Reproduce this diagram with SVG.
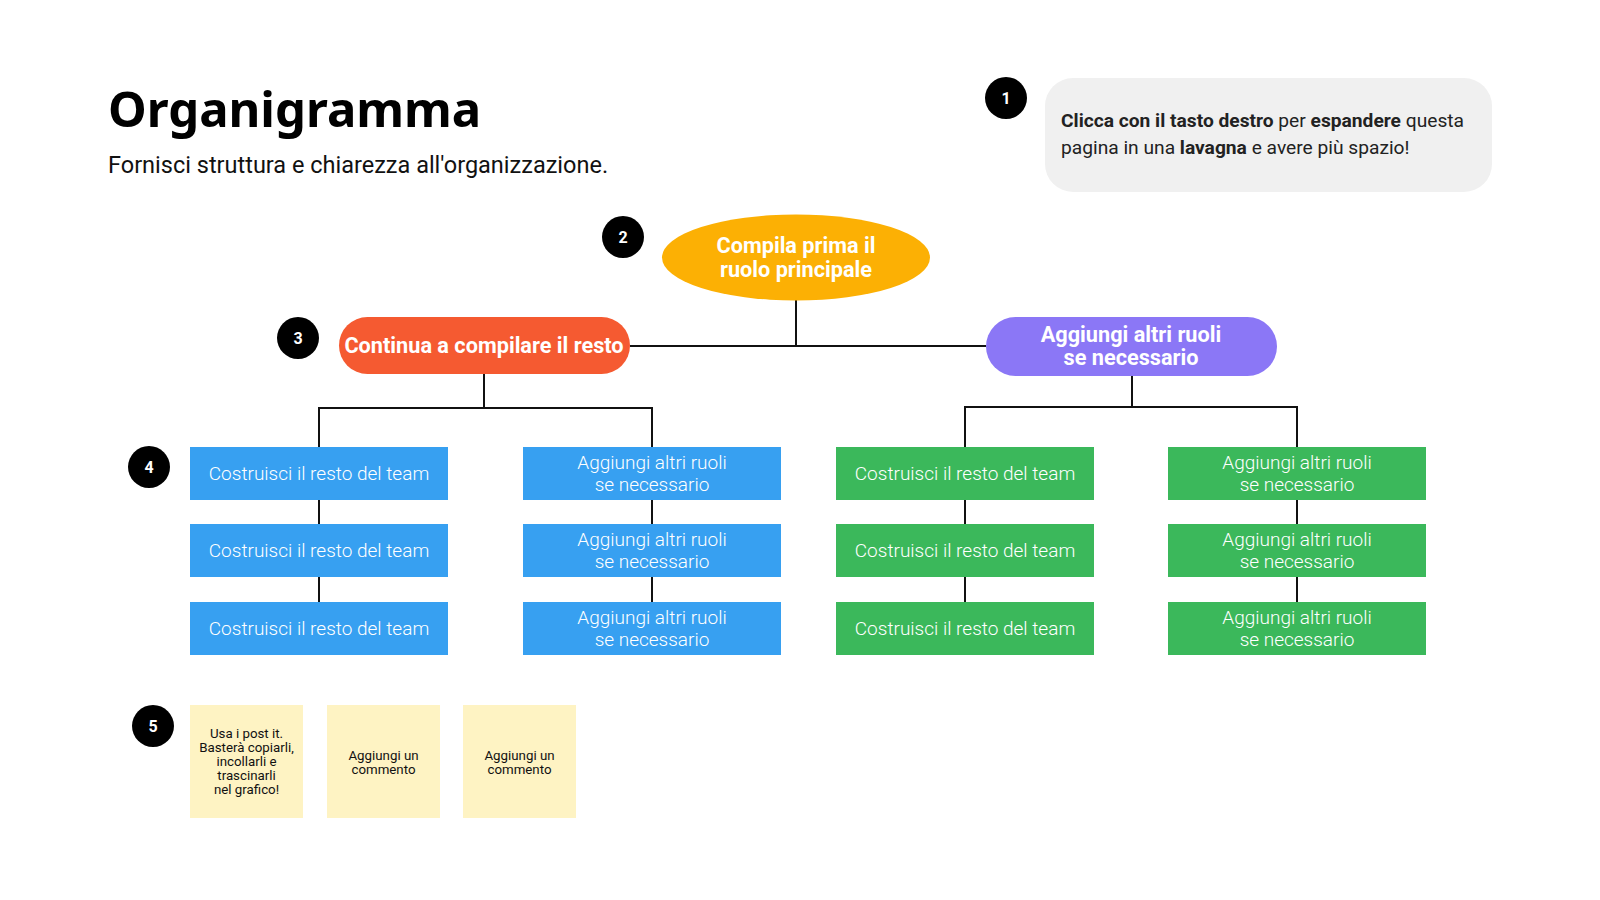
<svg xmlns="http://www.w3.org/2000/svg" width="1600" height="900" viewBox="0 0 1600 900">
<style>
.badge circle{fill:#000}
.badge text{fill:#fff;font-family:Roboto,"Liberation Sans",sans-serif;font-weight:700;font-size:16px;text-anchor:middle}
.conn line{stroke:#111;stroke-width:2;fill:none}
.top text{fill:#fff;font-family:Roboto,"Liberation Sans",sans-serif;font-weight:700;font-size:21.7px;text-anchor:middle}
.box text{fill:#fff;font-family:Roboto,"Liberation Sans",sans-serif;font-weight:300;font-size:19px;text-anchor:middle}
.blue rect{fill:#37a0f1}
.green rect{fill:#3bb85b}
.note rect{fill:#fef3c3}
.note text{font-family:Roboto,"Liberation Sans",sans-serif;font-size:13.3px;fill:#111;text-anchor:middle}
</style>
<rect width="1600" height="900" fill="#fff"/>
<g id="title">
<text x="108" y="127" font-family="'Noto Sans','Liberation Sans',sans-serif" font-weight="700" font-size="49" fill="#000">Organigramma</text>
<text x="108" y="173" font-family="Roboto,'Liberation Sans',sans-serif" font-size="23.5" fill="#111">Fornisci struttura e chiarezza all'organizzazione.</text>
</g>
<g id="info">
<rect x="1045" y="78" width="447" height="114" rx="28" fill="#f0f0f0"/>
<text font-family="Roboto,'Liberation Sans',sans-serif" font-size="19.2" fill="#222"><tspan x="1061" y="127"><tspan font-weight="700">Clicca con il tasto destro</tspan> per <tspan font-weight="700">espandere</tspan> questa</tspan><tspan x="1061" y="154">pagina in una <tspan font-weight="700">lavagna</tspan> e avere più spazio!</tspan></text>
</g>
<g class="badge" id="badge1"><circle cx="1006" cy="98" r="21"/><text x="1006" y="104">1</text></g>
<g class="badge" id="badge2"><circle cx="623" cy="237" r="21"/><text x="623" y="243">2</text></g>
<g class="badge" id="badge3"><circle cx="298" cy="338" r="21"/><text x="298" y="344">3</text></g>
<g class="badge" id="badge4"><circle cx="149" cy="467" r="21"/><text x="149" y="473">4</text></g>
<g class="badge" id="badge5"><circle cx="153" cy="726" r="21"/><text x="153" y="732">5</text></g>
<g class="conn" id="connectors">
<line x1="796" y1="300" x2="796" y2="346"/>
<line x1="630" y1="346" x2="986" y2="346"/>
<line x1="484" y1="374" x2="484" y2="408"/>
<line x1="318" y1="408" x2="653" y2="408"/>
<line x1="319" y1="407" x2="319" y2="447"/>
<line x1="652" y1="407" x2="652" y2="447"/>
<line x1="1132" y1="376" x2="1132" y2="407"/>
<line x1="964" y1="407" x2="1298" y2="407"/>
<line x1="965" y1="406" x2="965" y2="447"/>
<line x1="1297" y1="406" x2="1297" y2="447"/>
<line x1="319" y1="500" x2="319" y2="524"/><line x1="319" y1="577" x2="319" y2="602"/>
<line x1="652" y1="500" x2="652" y2="524"/><line x1="652" y1="577" x2="652" y2="602"/>
<line x1="965" y1="500" x2="965" y2="524"/><line x1="965" y1="577" x2="965" y2="602"/>
<line x1="1297" y1="500" x2="1297" y2="524"/><line x1="1297" y1="577" x2="1297" y2="602"/>
</g>
<g class="top" id="root"><ellipse cx="796" cy="257.5" rx="134" ry="43" fill="#fcb004"/><text x="796" y="253">Compila prima il</text><text x="796" y="277">ruolo principale</text></g>
<g class="top" id="left"><rect x="339" y="317" width="291" height="57" rx="28.5" fill="#f55a31"/><text x="484" y="353">Continua a compilare il resto</text></g>
<g class="top" id="right"><rect x="986" y="317" width="291" height="59" rx="29.5" fill="#8b77f6"/><text x="1131" y="342">Aggiungi altri ruoli</text><text x="1131" y="365">se necessario</text></g>
<g class="box blue" id="b11"><rect x="190" y="447" width="258" height="53"/><text x="319" y="480">Costruisci il resto del team</text></g>
<g class="box blue" id="b12"><rect x="190" y="524" width="258" height="53"/><text x="319" y="557">Costruisci il resto del team</text></g>
<g class="box blue" id="b13"><rect x="190" y="602" width="258" height="53"/><text x="319" y="635">Costruisci il resto del team</text></g>
<g class="box blue" id="b21"><rect x="523" y="447" width="258" height="53"/><text x="652" y="469">Aggiungi altri ruoli</text><text x="652" y="491">se necessario</text></g>
<g class="box blue" id="b22"><rect x="523" y="524" width="258" height="53"/><text x="652" y="546">Aggiungi altri ruoli</text><text x="652" y="568">se necessario</text></g>
<g class="box blue" id="b23"><rect x="523" y="602" width="258" height="53"/><text x="652" y="624">Aggiungi altri ruoli</text><text x="652" y="646">se necessario</text></g>
<g class="box green" id="g11"><rect x="836" y="447" width="258" height="53"/><text x="965" y="480">Costruisci il resto del team</text></g>
<g class="box green" id="g12"><rect x="836" y="524" width="258" height="53"/><text x="965" y="557">Costruisci il resto del team</text></g>
<g class="box green" id="g13"><rect x="836" y="602" width="258" height="53"/><text x="965" y="635">Costruisci il resto del team</text></g>
<g class="box green" id="g21"><rect x="1168" y="447" width="258" height="53"/><text x="1297" y="469">Aggiungi altri ruoli</text><text x="1297" y="491">se necessario</text></g>
<g class="box green" id="g22"><rect x="1168" y="524" width="258" height="53"/><text x="1297" y="546">Aggiungi altri ruoli</text><text x="1297" y="568">se necessario</text></g>
<g class="box green" id="g23"><rect x="1168" y="602" width="258" height="53"/><text x="1297" y="624">Aggiungi altri ruoli</text><text x="1297" y="646">se necessario</text></g>
<g class="note" id="note1"><rect x="190" y="705" width="113" height="113"/><text x="246.5" y="738">Usa i post it.</text><text x="246.5" y="752">Basterà copiarli,</text><text x="246.5" y="766">incollarli e</text><text x="246.5" y="780">trascinarli</text><text x="246.5" y="794">nel grafico!</text></g>
<g class="note" id="note2"><rect x="327" y="705" width="113" height="113"/><text x="383.5" y="760">Aggiungi un</text><text x="383.5" y="774">commento</text></g>
<g class="note" id="note3"><rect x="463" y="705" width="113" height="113"/><text x="519.5" y="760">Aggiungi un</text><text x="519.5" y="774">commento</text></g>
</svg>
